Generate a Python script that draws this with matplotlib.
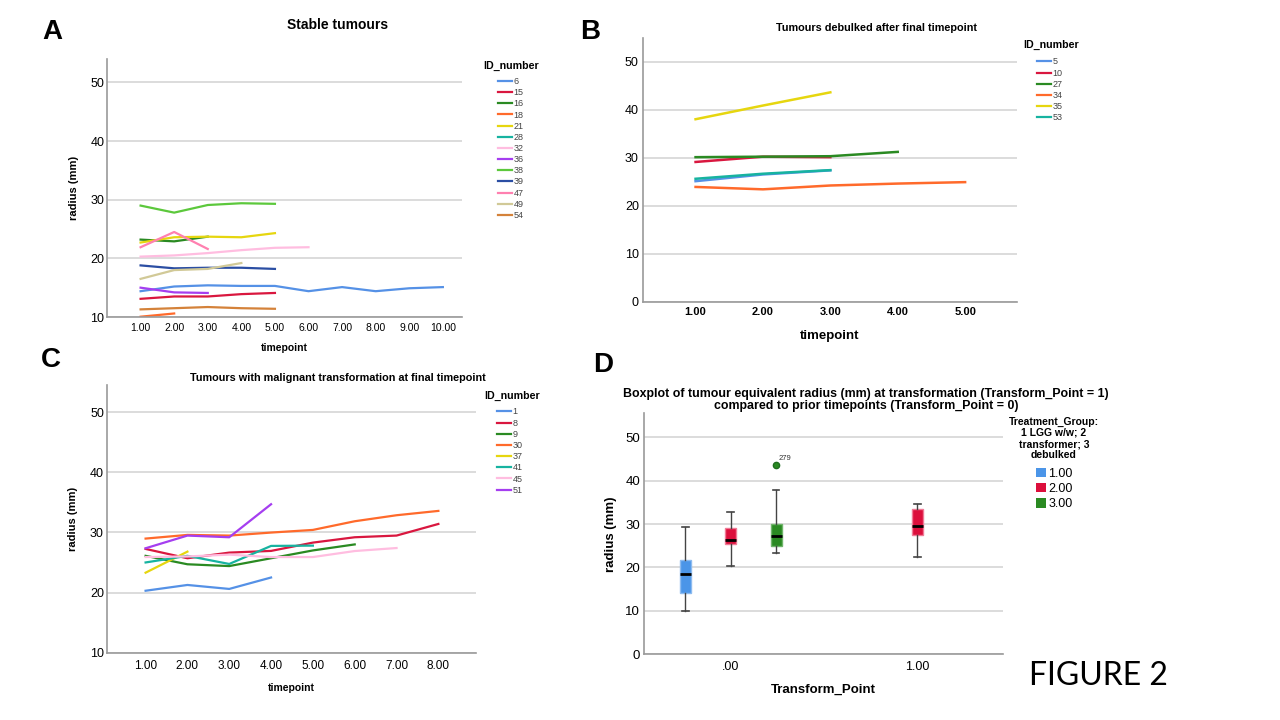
import matplotlib.pyplot as plt
from matplotlib.patches import Patch
from matplotlib.lines import Line2D

plt.rcParams['font.family'] = ['Liberation Sans', 'DejaVu Sans']

W, H = 1280, 720

# panel A - stable tumours
a_ids = ['6', '15', '16', '18', '21', '28', '32', '36', '38', '39', '47', '49', '54']
a_radius = [
    [14.4, 15.2, 15.4, 15.3, 15.3, 14.4, 15.1, 14.4, 14.9, 15.1],
    [13.1, 13.5, 13.5, 13.9, 14.1],
    [23.2, 22.9, 23.7],
    [10.05, 10.6],
    [22.7, 23.6, 23.7, 23.6, 24.3],
    [23.0],
    [20.3, 20.5, 20.9, 21.4, 21.8, 21.9],
    [15.0, 14.2, 14.1],
    [29.0, 27.8, 29.1, 29.4, 29.3],
    [18.8, 18.3, 18.4, 18.4, 18.2],
    [21.9, 24.5, 21.6],
    [16.5, 18.0, 18.2, 19.2],
    [11.3, 11.5, 11.7, 11.5, 11.4],
]
a_colors = ['#5591E6', '#D9173F', '#2A8A22', '#FF6A2B', '#E6D60F', '#17B3A0', '#FFBDE0',
            '#A53EF0', '#5CC83C', '#2B4EA3', '#FF80B0', '#D1C997', '#D4823A']

# panel B - debulked
b_ids = ['5', '10', '27', '34', '35', '53']
b_radius = [
    [25.1, 26.5, 27.35],
    [29.1, 30.2, 30.1],
    [30.1, 30.2, 30.3, 31.2],
    [23.9, 23.4, 24.2, 24.6, 24.9],
    [38.0, 40.85, 43.6],
    [25.6, 26.65, 27.4],
]
b_colors = ['#5591E6', '#D9173F', '#2A8A22', '#FF6A2B', '#E6D60F', '#17B3A0']

# panel C - malignant transformation
c_ids = ['1', '8', '9', '30', '37', '41', '45', '51']
c_radius = [
    [20.3, 21.26, 20.6, 22.5],
    [27.25, 25.7, 26.64, 26.92, 28.3, 29.19, 29.47, 31.4],
    [26.1, 24.7, 24.4, 25.7, 27.0, 28.0],
    [28.97, 29.58, 29.47, 29.97, 30.41, 31.85, 32.85, 33.57],
    [23.3, 26.8],
    [25.0, 26.1, 24.75, 27.75, 27.8],
    [25.9, 26.0, 26.3, 25.9, 25.9, 26.9, 27.4],
    [27.36, 29.47, 29.19, 34.68],
]
c_colors = ['#5591E6', '#D9173F', '#2A8A22', '#FF6A2B', '#E6D60F', '#17B3A0', '#FFBDE0', '#A53EF0']

# panel D - boxplot
d_groups = ['1.00', '2.00', '3.00']
d_group_colors = ['#4B95E8', '#DC0F3C', '#2A8A22']
d_edge_colors = ['#8DBBF0', '#F07A95', '#6FB56A']
d_transform = [0, 0, 0, 1]
d_group_idx = [0, 1, 2, 1]
d_whislo = [10.06, 20.3, 23.35, 22.4]
d_q1 = [14.05, 25.4, 25.0, 27.4]
d_med = [18.4, 26.3, 27.3, 29.6]
d_q3 = [21.7, 29.0, 30.0, 33.5]
d_whishi = [29.4, 32.7, 37.9, 34.7]
d_outliers = [[], [], [43.5], []]
d_outlier_label = '279'


def box(l, t, r, b):
    return [l / W, 1 - b / H, (r - l) / W, (b - t) / H]


def style(ax):
    for s in ['top', 'right']:
        ax.spines[s].set_visible(False)
    for s in ['left', 'bottom']:
        ax.spines[s].set_color('#9a9a9a')
        ax.spines[s].set_linewidth(1.2)
    ax.grid(axis='y', color='#d9d9d9', linewidth=1.3)
    ax.set_axisbelow(True)
    ax.tick_params(length=0)


def id_legend(ids, colors, x, y, tx, ty):
    handles = [Line2D([], [], color=c, lw=1.6) for c in colors]
    fig.legend(handles, ids, loc='upper left', bbox_to_anchor=(x / W, 1 - y / H),
               frameon=False, fontsize=6.5, labelspacing=0.24, handlelength=1.6,
               handletextpad=0.15, borderpad=0, borderaxespad=0, labelcolor='#444444')
    fig.text(tx / W, 1 - ty / H, 'ID_number', fontsize=7.7, fontweight='bold',
             ha='center', va='center')


fig = plt.figure(figsize=(12.8, 7.2), dpi=100)

# ---- A
axA = fig.add_axes(box(107, 59, 462, 317))
style(axA)
for vals, col in zip(a_radius, a_colors):
    axA.plot(range(1, len(vals) + 1), vals, color=col, lw=1.6)
axA.set_xlim(0, 10.57)
axA.set_ylim(10, 54)
axA.set_yticks([10, 20, 30, 40, 50])
axA.set_xticks(range(1, 11))
axA.set_xticklabels([f'{i}.00' for i in range(1, 11)], fontsize=7.5)
axA.tick_params(axis='y', labelsize=9, pad=2)
axA.tick_params(axis='x', pad=4)
axA.set_xlabel('timepoint', fontsize=7.5, fontweight='bold')
axA.xaxis.set_label_coords(0.5, -0.1)
axA.set_ylabel('radius (mm)', fontsize=8, fontweight='bold')
axA.yaxis.set_label_coords(-0.08, 0.5)
fig.text(338 / W, 1 - 25 / H, 'Stable tumours', fontsize=10, fontweight='bold', ha='center', va='center')
id_legend(a_ids, a_colors, 498, 77, 511, 66)

# ---- B
axB = fig.add_axes(box(643, 37.6, 1017, 301.7))
style(axB)
for vals, col in zip(b_radius, b_colors):
    axB.plot(range(1, len(vals) + 1), vals, color=col, lw=1.8)
axB.set_xlim(0.22, 5.77)
axB.set_ylim(0, 55)
axB.set_yticks([0, 10, 20, 30, 40, 50])
axB.set_xticks(range(1, 6))
axB.set_xticklabels([f'{i}.00' for i in range(1, 6)], fontsize=8, fontweight='bold')
axB.tick_params(axis='y', labelsize=9, pad=3)
axB.tick_params(axis='x', pad=4)
axB.set_xlabel('timepoint', fontsize=9.5, fontweight='bold')
axB.xaxis.set_label_coords(0.5, -0.108)
fig.text(876 / W, 1 - 28 / H, 'Tumours debulked after final timepoint', fontsize=7.8,
         fontweight='bold', ha='center', va='center')
id_legend(b_ids, b_colors, 1037, 57.5, 1051, 45)

# ---- C
axC = fig.add_axes(box(106.7, 385, 476, 652.7))
style(axC)
for vals, col in zip(c_radius, c_colors):
    axC.plot(range(1, len(vals) + 1), vals, color=col, lw=1.6)
axC.set_xlim(0.07, 8.9)
axC.set_ylim(10, 54.5)
axC.set_yticks([10, 20, 30, 40, 50])
axC.set_xticks(range(1, 9))
axC.set_xticklabels([f'{i}.00' for i in range(1, 9)], fontsize=8.5)
axC.tick_params(axis='y', labelsize=9, pad=2)
axC.tick_params(axis='x', pad=5)
axC.set_xlabel('timepoint', fontsize=7.5, fontweight='bold')
axC.xaxis.set_label_coords(0.5, -0.113)
axC.set_ylabel('radius (mm)', fontsize=8, fontweight='bold')
axC.yaxis.set_label_coords(-0.077, 0.5)
fig.text(338 / W, 1 - 378 / H, 'Tumours with malignant transformation at final timepoint',
         fontsize=7.8, fontweight='bold', ha='center', va='center')
id_legend(c_ids, c_colors, 497, 407.5, 512, 396)

# ---- D
axD = fig.add_axes(box(644.3, 413.3, 1003.3, 654.3))
style(axD)
offsets = [-0.243, 0.0, 0.243]
stats, pos = [], []
for i in range(len(d_med)):
    stats.append(dict(whislo=d_whislo[i], q1=d_q1[i], med=d_med[i], q3=d_q3[i],
                      whishi=d_whishi[i], fliers=d_outliers[i]))
    pos.append(d_transform[i] + offsets[d_group_idx[i]])
bp = axD.bxp(stats, positions=pos, widths=0.06, capwidths=0.035, patch_artist=True,
             manage_ticks=False,
             whiskerprops=dict(color='#444444', lw=1),
             capprops=dict(color='#444444', lw=1.2),
             medianprops=dict(color='black', lw=2),
             flierprops=dict(marker='o', markersize=4.5, markeredgecolor='#1f6e1f'))
for i, patch in enumerate(bp['boxes']):
    g = d_group_idx[i]
    patch.set_facecolor(d_group_colors[g])
    patch.set_edgecolor(d_edge_colors[g])
    patch.set_linewidth(1)
    bp['fliers'][i].set_markerfacecolor(d_group_colors[g])
for i, fl in enumerate(d_outliers):
    for v in fl:
        axD.annotate(d_outlier_label, (pos[i], v), xytext=(2, 4), textcoords='offset points',
                     fontsize=5.5, color='#333333')
axD.set_xlim(-0.463, 1.46)
axD.set_ylim(0, 55.5)
axD.set_yticks([0, 10, 20, 30, 40, 50])
axD.set_xticks([0, 1])
axD.set_xticklabels(['.00', '1.00'], fontsize=9)
axD.tick_params(axis='y', labelsize=9.5, pad=3)
axD.tick_params(axis='x', pad=5)
axD.set_xlabel('Transform_Point', fontsize=9.5, fontweight='bold')
axD.xaxis.set_label_coords(0.5, -0.123)
axD.set_ylabel('radius (mm)', fontsize=9.5, fontweight='bold')
axD.yaxis.set_label_coords(-0.076, 0.5)
fig.text(866 / W, 1 - 399.5 / H,
         'Boxplot of tumour equivalent radius (mm) at transformation (Transform_Point = 1)\n'
         'compared to prior timepoints (Transform_Point = 0)',
         fontsize=8.9, fontweight='bold', ha='center', va='center', linespacing=1.0)
fig.text(1054 / W, 1 - 438.5 / H, 'Treatment_Group:\n1 LGG w/w; 2\ntransformer; 3\ndebulked',
         fontsize=7.5, fontweight='bold', ha='center', va='center', linespacing=1.15)
handles = [Patch(facecolor=c, edgecolor='none') for c in d_group_colors]
fig.legend(handles, d_groups, loc='upper left', bbox_to_anchor=(1036 / W, 1 - 467.5 / H),
           frameon=False, fontsize=9, labelspacing=0.25, handlelength=0.8, handleheight=0.8,
           handletextpad=0.2, borderpad=0, borderaxespad=0)

# panel letters
for letter, x, y in [('A', 52, 32), ('B', 590, 32), ('C', 51, 360), ('D', 603, 365)]:
    fig.text(x / W, 1 - y / H, letter, fontsize=20, fontweight='bold', ha='center', va='center')

fig.text(1098 / W, 1 - 676 / H, 'FIGURE 2', fontsize=23, family='Lato', ha='center', va='center')

fig.savefig('out.png', dpi=100)
